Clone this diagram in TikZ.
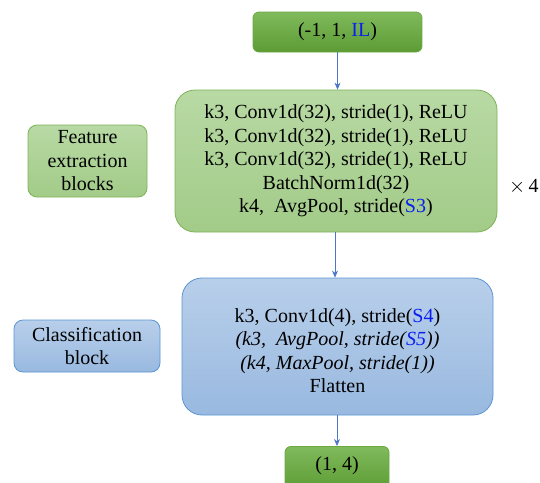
\documentclass[tikz,border=0pt]{standalone}
\usepackage{fontspec}
\setmainfont{Liberation Serif}
\usetikzlibrary{arrows.meta}
\definecolor{lineblue}{HTML}{4A78C8}
\definecolor{txtblue}{HTML}{0A1EF0}
\definecolor{gdark1}{HTML}{80BA5C}
\definecolor{gdark2}{HTML}{5C9C34}
\definecolor{gdarkb}{HTML}{6AA843}
\definecolor{glight1}{HTML}{B8D9A4}
\definecolor{glight2}{HTML}{A2CB88}
\definecolor{glightb}{HTML}{7DB356}
\definecolor{blue1}{HTML}{B8CFEA}
\definecolor{blue2}{HTML}{99B9E0}
\definecolor{blueb}{HTML}{5B95D4}
\tikzset{
  x=1pt, y=-1pt,
  box/.style={draw, line width=0.8pt, align=center, inner sep=0pt, font=\fontsize{20}{23.5}\selectfont},
  darkg/.style={box, draw=gdarkb, top color=gdark1, bottom color=gdark2, rounded corners=6pt},
  lightg/.style={box, draw=glightb, top color=glight1, bottom color=glight2},
  blueb/.style={box, draw=blueb, top color=blue1, bottom color=blue2},
  txt/.style={align=center, inner sep=0pt, font=\fontsize{20}{23.5}\selectfont},
  conn/.style={draw=lineblue, line width=0.7pt, -{Stealth[length=7pt,width=6pt]}},
}
\begin{document}
\begin{tikzpicture}
\clip (0,0) rectangle (540,482);
\useasboundingbox (0,0) rectangle (540,482);
% top input
\node[darkg, minimum width=169pt, minimum height=40pt] (in) at (337.5,32) {(-1, 1, \textcolor{txtblue}{IL})};
% feature extraction big box
\node[lightg, rounded corners=20pt, minimum width=322pt, minimum height=142pt] (fe) at (336,161)
 {k3, Conv1d(32), stride(1), ReLU\\
  k3, Conv1d(32), stride(1), ReLU\\
  k3, Conv1d(32), stride(1), ReLU\\
  BatchNorm1d(32)\\
  k4,\ \ AvgPool, stride(\textcolor{txtblue}{S3})};
\node[anchor=west, font=\fontsize{20}{22}\selectfont, inner sep=0pt] (times) at (509,187) {$\times$\,4};
% label left
\node[lightg, rounded corners=9pt, minimum width=119pt, minimum height=72pt] (fel) at (87.5,161)
 {Feature\\extraction\\blocks};
% classification big box
\node[blueb, rounded corners=20pt, minimum width=311pt, minimum height=137pt] (cl) at (337.5,346.5) {};
\node[txt] (clt) at (337.5,350.5)
 {k3, Conv1d(4), stride(\textcolor{txtblue}{S4})\\
  \textit{(k3,\ \ AvgPool, stride(\textcolor{txtblue}{S5}))}\\
  \textit{(k4, MaxPool, stride(1))}\\
  Flatten};
\node[blueb, rounded corners=9pt, minimum width=146pt, minimum height=52pt] (cll) at (87,346)
 {Classification\\block};
% output
\node[darkg, minimum width=104pt, minimum height=44pt, anchor=north] (out) at (337,446) {};
\node[txt] (outt) at (337,466) {(1, 4)};
% connectors
\draw[conn] (in.south) -- (in.south |- fe.north);
\draw[conn] (fe.south -| 335,0) -- (cl.north -| 335,0);
\draw[conn] (cl.south -| out.north) -- (out.north);
\end{tikzpicture}
\end{document}
